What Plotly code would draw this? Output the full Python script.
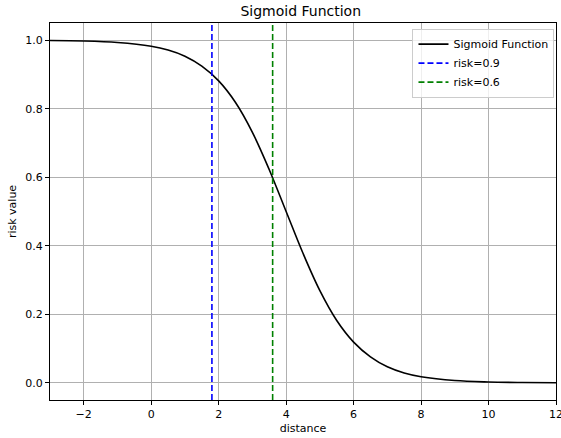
import plotly.graph_objects as go

# data
distance = [-3, -2, -1, 0, 0.5, 1, 1.5, 2, 2.5, 3, 3.5, 4, 4.5, 5, 5.5, 6, 6.5, 7, 7.5, 8, 9, 10, 11, 12]
risk = [0.999, 0.9975, 0.993, 0.982, 0.971, 0.953, 0.924, 0.881, 0.818, 0.731, 0.622, 0.5,
        0.378, 0.269, 0.182, 0.119, 0.076, 0.047, 0.029, 0.018, 0.0067, 0.0025, 0.0009, 0.0003]
risk_levels = ["risk=0.9", "risk=0.6"]
risk_x = [1.80, 3.60]
risk_colors = ["blue", "green"]

fig = go.Figure()
fig.add_trace(go.Scatter(x=distance, y=risk, mode="lines", line=dict(color="black", width=1.6, shape="spline"),
                         name="Sigmoid Function"))
for name, xv, c in zip(risk_levels, risk_x, risk_colors):
    fig.add_trace(go.Scatter(x=[xv, xv], y=[-0.05, 1.05], mode="lines",
                             line=dict(color=c, width=1.6, dash="6px,3px"), name=name))

axis_common = dict(showline=True, linecolor="black", linewidth=1, mirror=True,
                   ticks="outside", ticklen=4, tickcolor="black",
                   showgrid=True, gridcolor="#b0b0b0", gridwidth=1, zeroline=False,
                   tickfont=dict(size=11, color="black"), ticklabeloverflow="allow",
                   automargin=False)
fig.update_layout(
    width=561, height=438,
    margin=dict(l=50, r=5, t=23, b=38, autoexpand=False),
    paper_bgcolor="white", plot_bgcolor="white",
    font=dict(family="DejaVu Sans", color="black", size=11),
    title=dict(text="Sigmoid Function", x=0.536, xanchor="center", y=0.975, yanchor="middle",
               font=dict(size=14)),
    xaxis=dict(range=[-3, 12], tickvals=[-2, 0, 2, 4, 6, 8, 10, 12],
               ticktext=["\u22122", "0", "2", "4", "6", "8", "10", "12"],
               title=dict(text="distance", font=dict(size=11), standoff=4), **axis_common),
    yaxis=dict(range=[-0.05, 1.05], tickvals=[0, 0.2, 0.4, 0.6, 0.8, 1.0],
               ticktext=["0.0", "0.2", "0.4", "0.6", "0.8", "1.0"],
               title=dict(text="risk value", font=dict(size=11), standoff=6), **axis_common),
    legend=dict(x=0.997, xanchor="right", y=0.985, yanchor="top",
                bgcolor="rgba(255,255,255,0.8)", bordercolor="#cccccc", borderwidth=1,
                font=dict(size=11), tracegroupgap=0, itemwidth=30),
    showlegend=True,
)
fig.write_html("out.html")
